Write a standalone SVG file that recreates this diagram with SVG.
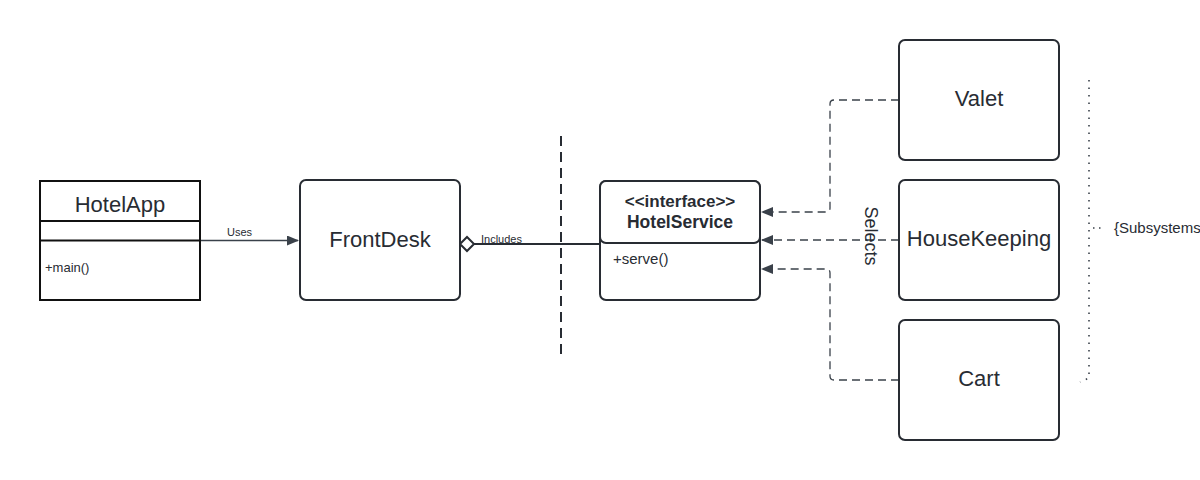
<svg xmlns="http://www.w3.org/2000/svg" width="1200" height="480" viewBox="0 0 1200 480">
<style>
.box{fill:#fff;stroke:#282c33;stroke-width:2}
.t{font-family:"Liberation Sans",Arial,sans-serif;fill:#282c33}
.c{stroke:#3a414a;stroke-width:1.3;fill:none}
.d{stroke:#3a414a;stroke-width:1.3;fill:none;stroke-dasharray:8 5}
</style>
<defs>
<marker id="ah" markerWidth="12" markerHeight="10" refX="11" refY="5" orient="auto" markerUnits="userSpaceOnUse">
<path d="M0,0 L12,5 L0,10 Z" fill="#3a414a"/>
</marker>
</defs>
<rect width="1200" height="480" fill="#fff"/>
<g id="connectors">
<path class="c" d="M200,240.5 H298" marker-end="url(#ah)"/>
<text class="t" x="227" y="236" font-size="11">Uses</text>
<path d="M474,244 H600" stroke="#282c33" stroke-width="2" fill="none"/>
<path d="M460,244 L467,237 L474,244 L467,251 Z" fill="#fff" stroke="#282c33" stroke-width="2"/>
<text class="t" x="481" y="243" font-size="11">Includes</text>
<path d="M561,136 V356" stroke="#282c33" stroke-width="2" stroke-dasharray="10 6" fill="none"/>
<path class="d" d="M899,100 H834 Q830,100 830,104 V208 Q830,212 826,212 H762" marker-end="url(#ah)"/>
<path class="d" d="M899,240 H762" marker-end="url(#ah)"/>
<path class="d" d="M899,380 H834 Q830,380 830,376 V273 Q830,269 826,269 H762" marker-end="url(#ah)"/>
<text class="t" font-size="18" transform="translate(865,236) rotate(90)" text-anchor="middle">Selects</text>
<path d="M1089,80 V378 L1080,382" stroke="#3a414a" stroke-width="1.6" stroke-dasharray="1.5 6" fill="none"/>
<path d="M1093,228 H1102" stroke="#3a414a" stroke-width="1.6" stroke-dasharray="1.5 4.5" fill="none"/>
<text class="t" x="1114" y="233" font-size="15">{Subsystems</text>
</g>
<g id="hotelapp">
<rect x="40" y="181" width="160" height="119" fill="#fff" stroke="#111" stroke-width="2"/>
<line x1="40" y1="221" x2="200" y2="221" stroke="#111" stroke-width="2"/>
<line x1="40" y1="240.5" x2="200" y2="240.5" stroke="#111" stroke-width="2"/>
<text class="t" x="120" y="212" font-size="22" text-anchor="middle">HotelApp</text>
<text class="t" x="45" y="272" font-size="13">+main()</text>
</g>
<g id="frontdesk">
<rect class="box" x="300" y="180" width="160" height="120" rx="6"/>
<text class="t" x="380" y="247" font-size="22" text-anchor="middle">FrontDesk</text>
</g>
<g id="hotelservice">
<rect class="box" x="600" y="181" width="160" height="119" rx="6"/>
<rect class="box" x="600" y="181" width="160" height="62" rx="6"/>
<text class="t" x="680" y="207" font-size="17" font-weight="bold" text-anchor="middle">&lt;&lt;interface&gt;&gt;</text>
<text class="t" x="680" y="228" font-size="17.5" font-weight="bold" text-anchor="middle">HotelService</text>
<text class="t" x="613" y="264" font-size="15">+serve()</text>
</g>
<g id="valet">
<rect class="box" x="899" y="40" width="160" height="120" rx="6"/>
<text class="t" x="979" y="106" font-size="22" text-anchor="middle">Valet</text>
</g>
<g id="housekeeping">
<rect class="box" x="899" y="180" width="160" height="120" rx="6"/>
<text class="t" x="979" y="246" font-size="22" text-anchor="middle">HouseKeeping</text>
</g>
<g id="cart">
<rect class="box" x="899" y="320" width="160" height="120" rx="6"/>
<text class="t" x="979" y="386" font-size="22" text-anchor="middle">Cart</text>
</g>
</svg>
